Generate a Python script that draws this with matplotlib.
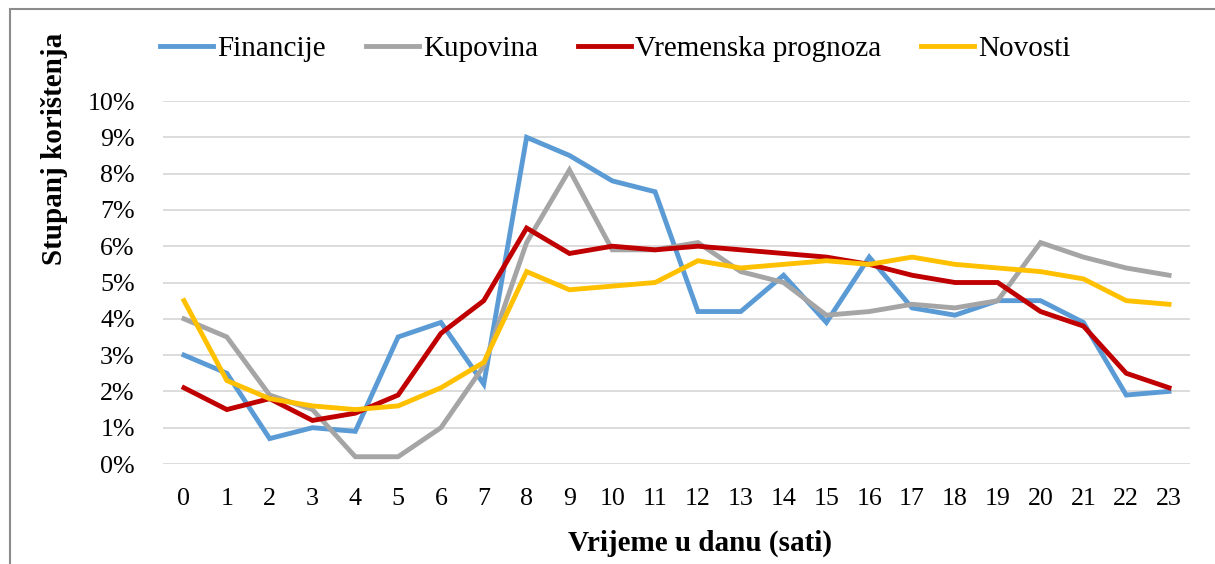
import matplotlib.pyplot as plt
from matplotlib.patches import Rectangle
from matplotlib.ticker import FuncFormatter

plt.rcParams['font.family'] = ['Liberation Serif', 'DejaVu Serif']

# Data (share of usage per hour, in %)
hours = list(range(24))
financije = [3.0, 2.5, 0.7, 1.0, 0.9, 3.5, 3.9, 2.2, 9.0, 8.5, 7.8, 7.5,
             4.2, 4.2, 5.2, 3.9, 5.7, 4.3, 4.1, 4.5, 4.5, 3.9, 1.9, 2.0]
kupovina = [4.0, 3.5, 1.9, 1.5, 0.2, 0.2, 1.0, 2.7, 6.1, 8.1, 5.9, 5.9,
            6.1, 5.3, 5.0, 4.1, 4.2, 4.4, 4.3, 4.5, 6.1, 5.7, 5.4, 5.2]
vremenska = [2.1, 1.5, 1.8, 1.2, 1.4, 1.9, 3.6, 4.5, 6.5, 5.8, 6.0, 5.9,
             6.0, 5.9, 5.8, 5.7, 5.5, 5.2, 5.0, 5.0, 4.2, 3.8, 2.5, 2.1]
novosti = [4.5, 2.3, 1.8, 1.6, 1.5, 1.6, 2.1, 2.8, 5.3, 4.8, 4.9, 5.0,
           5.6, 5.4, 5.5, 5.6, 5.5, 5.7, 5.5, 5.4, 5.3, 5.1, 4.5, 4.4]

series = [
    ("Financije", financije, "#5B9BD5"),
    ("Kupovina", kupovina, "#A5A5A5"),
    ("Vremenska prognoza", vremenska, "#C00000"),
    ("Novosti", novosti, "#FFC000"),
]

fig = plt.figure(figsize=(12.15, 5.64), dpi=100)
ax = fig.add_axes([0.1338, 0.1773, 0.846, 0.6436])

for name, vals, col in series:
    ax.plot(hours, vals, color=col, linewidth=3.5, label=name,
            solid_joinstyle='miter', clip_on=False)

ax.set_xlim(-0.5, 23.5)
ax.set_ylim(0, 10)
ax.set_yticks(range(0, 11))
ax.set_xticks(hours)
ax.yaxis.set_major_formatter(FuncFormatter(lambda v, p: f"{int(v)}%"))
ax.grid(axis='y', color='#D9D9D9', linewidth=1.3)
ax.set_axisbelow(True)
for s in ax.spines.values():
    s.set_visible(False)
ax.tick_params(length=0, labelsize=18.7)
ax.tick_params(axis='x', pad=17)
ax.tick_params(axis='y', pad=20)

fig.legend(loc='center left', bbox_to_anchor=(160 / 1215, 1 - 49 / 564),
           ncol=4, frameon=False, fontsize=21, handlelength=1.82,
           handletextpad=0.14, columnspacing=1.37, borderaxespad=0, borderpad=0)

fig.text(55 / 1215, 1 - 149 / 564, "Stupanj korištenja", rotation=90,
         ha='center', va='center', fontsize=21, fontweight='bold')
fig.text(700 / 1215, 1 - 543 / 564, "Vrijeme u danu (sati)",
         ha='center', va='center', fontsize=21, fontweight='bold')

# chart area border (partly outside the picture)
fig.patches.append(Rectangle((10 / 1215, -0.1), 1.2, 1 - 9 / 564 + 0.1,
                             transform=fig.transFigure, fill=False,
                             edgecolor='#8C8C8C', linewidth=1.5))

fig.savefig("out.png", dpi=100)
